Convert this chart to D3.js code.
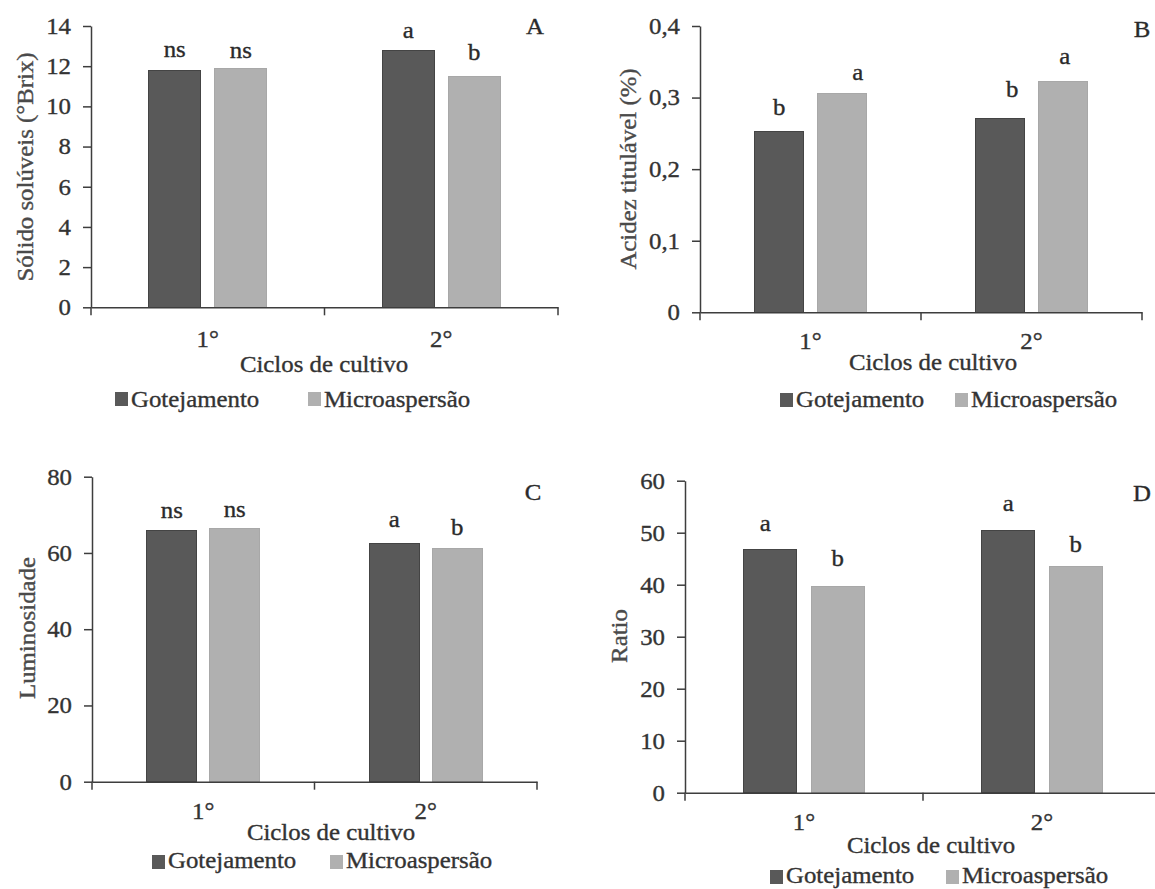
<!DOCTYPE html>
<html>
<head>
<meta charset="utf-8">
<script src="https://cdn.jsdelivr.net/npm/d3@7"></script>
<style>
  body { margin: 0; background: #ffffff; }
  svg { display: block; }
  text { font-family: "Liberation Serif", "Times New Roman", serif; }
</style>
</head>
<body>
<svg id="fig" width="1155" height="889"></svg>
<script>
// ---- data -------------------------------------------------------------
const cycles  = ["1°", "2°"];
const systems = ["Gotejamento", "Microaspersão"];

// A – soluble solids (°Brix)
const solidsGot = [11.8, 12.8];
const solidsMic = [11.9, 11.5];
const solidsSigGot = ["ns", "a"];
const solidsSigMic = ["ns", "b"];
const solidsTicks = [0, 2, 4, 6, 8, 10, 12, 14];

// B – titratable acidity (%)
const acidGot = [0.252, 0.271];
const acidMic = [0.305, 0.323];
const acidSigGot = ["b", "b"];
const acidSigMic = ["a", "a"];
const acidTicks = [0, 0.1, 0.2, 0.3, 0.4];

// C – luminosity
const lumGot = [65.8, 62.5];
const lumMic = [66.5, 61.1];
const lumSigGot = ["ns", "a"];
const lumSigMic = ["ns", "b"];
const lumTicks = [0, 20, 40, 60, 80];

// D – ratio
const ratioGot = [46.7, 50.5];
const ratioMic = [39.6, 43.5];
const ratioSigGot = ["a", "a"];
const ratioSigMic = ["b", "b"];
const ratioTicks = [0, 10, 20, 30, 40, 50, 60];

// ---- style --------------------------------------------------------------
const colors   = { "Gotejamento": "#595959", "Microaspersão": "#b0b0b0" };
const strokes  = { "Gotejamento": "#444444", "Microaspersão": "#a8a8a8" };
const INK      = "#333333";
const AXIS     = "#3d3d3d";
const FS       = 23;      // font size
const SX       = 1.08;    // horizontal stretch of the serif face
const commaFmt = d => d === 0 ? "0" : String(d).replace(".", ",");

// ---- panel layout ---------------------------------------------------------
const panels = [
  { got: solidsGot, mic: solidsMic, sigGot: solidsSigGot, sigMic: solidsSigMic,
    ticks: solidsTicks, fmt: d => String(d), max: 14,
    x0: 91, x1: 558, yTop: 26, yBot: 307.3,
    yTitle: "Sólido solúveis (°Brix)", yTitleX: 25, yTitleY: 167,
    letter: "A", letterX: 535, letterY: 34,
    xLabelY: 347, xTitleX: 324, xTitleY: 372,
    legTop: 392, legY: 407, legG: 115, legM: 308,
    liftGot: [12.8, 12], liftMic: [10, 16.7], dxGot: [0, 0], dxMic: [0, 0] },
  { got: acidGot, mic: acidMic, sigGot: acidSigGot, sigMic: acidSigMic,
    ticks: acidTicks, fmt: commaFmt, max: 0.4,
    x0: 700, x1: 1142, yTop: 26, yBot: 312.3,
    yTitle: "Acidez titulável (%)", yTitleX: 628, yTitleY: 169,
    letter: "B", letterX: 1142, letterY: 37,
    xLabelY: 349, xTitleX: 933, xTitleY: 370,
    legTop: 393, legY: 407, legG: 780, legM: 955,
    liftGot: [17, 21], liftMic: [13.7, 17], dxGot: [0, 12], dxMic: [16, 2] },
  { got: lumGot, mic: lumMic, sigGot: lumSigGot, sigMic: lumSigMic,
    ticks: lumTicks, fmt: d => String(d), max: 80,
    x0: 92, x1: 537, yTop: 476.7, yBot: 781.7,
    yTitle: "Luminosidade", yTitleX: 27, yTitleY: 628,
    letter: "C", letterX: 533, letterY: 500,
    xLabelY: 819, xTitleX: 331, xTitleY: 840,
    legTop: 855, legY: 868, legG: 152, legM: 330,
    liftGot: [12.4, 16], liftMic: [11.6, 13.7], dxGot: [0, 0], dxMic: [0, 0] },
  { got: ratioGot, mic: ratioMic, sigGot: ratioSigGot, sigMic: ratioSigMic,
    ticks: ratioTicks, fmt: d => String(d), max: 60,
    x0: 685, x1: 1161, yTop: 480.7, yBot: 792.7,
    yTitle: "Ratio", yTitleX: 619, yTitleY: 636,
    letter: "D", letterX: 1142, letterY: 501,
    xLabelY: 830, xTitleX: 931, xTitleY: 853,
    legTop: 870, legY: 883, legG: 770, legM: 946,
    liftGot: [19.3, 19.3], liftMic: [20.7, 15], dxGot: [-5, 0], dxMic: [0, 0] }
];

const svg = d3.select("#fig");

// text placed at (x,y), optionally rotated, with the slight horizontal stretch
function label(g, x, y, str, opt = {}) {
  const rot = opt.rotate || 0;
  const fill = opt.fill || INK;
  return g.append("text")
    .attr("transform", `translate(${x},${y}) rotate(${rot}) scale(${SX},1)`)
    .attr("text-anchor", opt.anchor || "middle")
    .attr("dy", opt.dy || null)
    .attr("font-size", opt.size || FS)
    .attr("fill", fill)
    .attr("stroke", fill)
    .attr("stroke-width", 0.35)
    .text(str);
}

// move axis text positions into a transform so the stretch keeps anchors
function stretchAxisText(axisG) {
  axisG.selectAll("text").each(function () {
    const t = d3.select(this);
    const x = +t.attr("x") || 0, y = +t.attr("y") || 0;
    t.attr("x", 0).attr("y", 0)
     .attr("transform", `translate(${x},${y}) scale(${SX},1)`)
     .attr("stroke", INK).attr("stroke-width", 0.35);
  });
}

panels.forEach(p => {
  const g = svg.append("g");

  const x = d3.scaleBand().domain(cycles).range([p.x0, p.x1]).padding(0);
  const xs = d3.scaleBand().domain(systems).range([0, x.bandwidth()])
    .paddingInner(0.212).paddingOuter(0.873);
  const y = d3.scaleLinear().domain([0, p.max]).range([p.yBot, p.yTop]);

  const rows = cycles.map((c, i) => ({
    cycle: c,
    items: [
      { sys: systems[0], v: p.got[i], sig: p.sigGot[i], lift: p.liftGot[i], dx: p.dxGot[i] },
      { sys: systems[1], v: p.mic[i], sig: p.sigMic[i], lift: p.liftMic[i], dx: p.dxMic[i] }
    ]
  }));

  // bars
  const grp = g.selectAll("g.cycle").data(rows).join("g")
    .attr("class", "cycle")
    .attr("transform", d => `translate(${x(d.cycle)},0)`);
  grp.selectAll("rect").data(d => d.items).join("rect")
    .attr("x", d => xs(d.sys))
    .attr("y", d => y(d.v))
    .attr("width", xs.bandwidth())
    .attr("height", d => y(0) - y(d.v))
    .attr("fill", d => colors[d.sys])
    .attr("stroke", d => strokes[d.sys])
    .attr("stroke-width", 1)
    .attr("shape-rendering", "crispEdges");

  // significance letters
  grp.each(function (d) {
    const gg = d3.select(this);
    d.items.forEach(it => {
      label(gg, xs(it.sys) + xs.bandwidth() / 2 + it.dx, y(it.v) - it.lift, it.sig,
            { fill: "#2a2a2a" });
    });
  });

  // y axis
  const yAxis = g.append("g")
    .attr("transform", `translate(${p.x0},0)`)
    .call(d3.axisLeft(y).tickValues(p.ticks).tickFormat(p.fmt)
      .tickSize(8).tickSizeOuter(0).tickPadding(12));
  yAxis.select(".domain").attr("stroke", AXIS).attr("stroke-width", 1.5);
  yAxis.selectAll(".tick line").attr("stroke", AXIS).attr("stroke-width", 1.5);
  yAxis.selectAll("text").attr("font-size", FS).attr("fill", INK)
    .attr("font-family", "Liberation Serif, Times New Roman, serif");
  stretchAxisText(yAxis);

  // x axis: line, boundary ticks between cycles, centred cycle labels
  const xAxis = g.append("g")
    .attr("transform", `translate(0,${y(0)})`)
    .call(d3.axisBottom(x).tickSize(0).tickPadding(p.xLabelY - p.yBot - 0.71 * FS));
  xAxis.select(".domain").attr("stroke", AXIS).attr("stroke-width", 1.5);
  xAxis.selectAll("text").attr("font-size", FS).attr("fill", INK)
    .attr("font-family", "Liberation Serif, Times New Roman, serif");
  stretchAxisText(xAxis);
  const bounds = [x.range()[0], ...cycles.slice(1).map(c => x(c)), x.range()[1]];
  xAxis.selectAll("line.bound").data(bounds).join("line")
    .attr("class", "bound")
    .attr("x1", d => d).attr("x2", d => d)
    .attr("y1", 0).attr("y2", 8)
    .attr("stroke", AXIS).attr("stroke-width", 1.5);

  // titles
  label(g, p.yTitleX, p.yTitleY, p.yTitle, { rotate: -90, dy: "0.33em", fill: "#4a4a4a" });
  label(g, p.xTitleX, p.xTitleY, "Ciclos de cultivo");
  label(g, p.letterX, p.letterY, p.letter, { fill: "#2a2a2a" });

  // legend
  const legPos = [p.legG, p.legM];
  systems.forEach((s, i) => {
    g.append("rect")
      .attr("x", legPos[i]).attr("y", p.legTop)
      .attr("width", 13).attr("height", 14)
      .attr("fill", colors[s]);
    label(g, legPos[i] + 16, p.legY, s, { anchor: "start" });
  });
});
</script>
</body>
</html>
